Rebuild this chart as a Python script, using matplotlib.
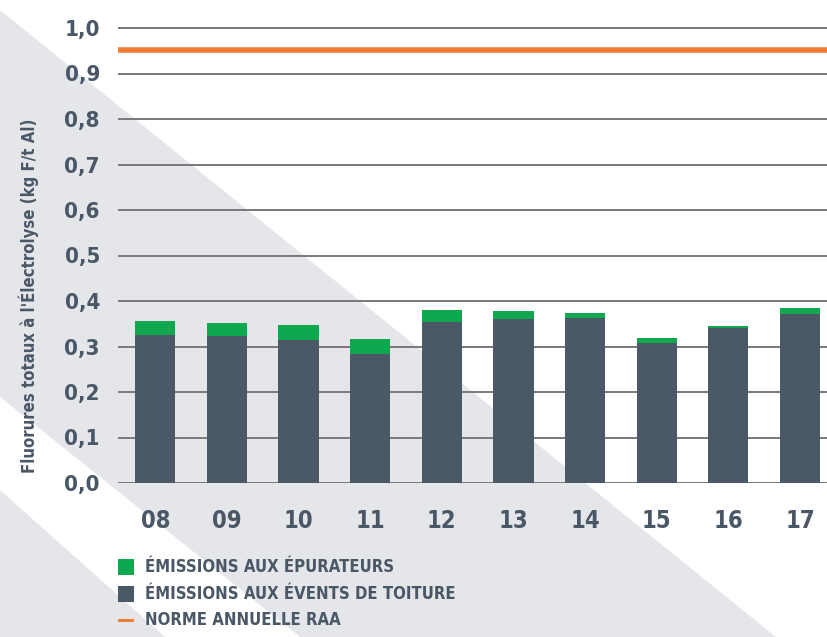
import matplotlib
matplotlib.use("Agg")
import matplotlib.pyplot as plt
from matplotlib.patches import Polygon
from matplotlib import font_manager
import numpy as np

# ---- data ----
years = ["08", "09", "10", "11", "12", "13", "14", "15", "16", "17"]
toiture = [0.325, 0.324, 0.314, 0.284, 0.353, 0.360, 0.362, 0.308, 0.340, 0.371]
epurateurs = [0.032, 0.027, 0.033, 0.032, 0.027, 0.018, 0.011, 0.011, 0.006, 0.014]
norme = 0.952
yticks = [0.0, 0.1, 0.2, 0.3, 0.4, 0.5, 0.6, 0.7, 0.8, 0.9, 1.0]
ytick_labels = ["0,0", "0,1", "0,2", "0,3", "0,4", "0,5", "0,6", "0,7", "0,8", "0,9", "1,0"]
legend_labels = ["ÉMISSIONS AUX ÉPURATEURS", "ÉMISSIONS AUX ÉVENTS DE TOITURE", "NORME ANNUELLE RAA"]
ylabel = "Fluorures totaux à l'Électrolyse (kg F/t Al)"

# ---- style ----
W, H = 828, 637
DARK = "#4b5866"
GREEN = "#0fa84f"
ORANGE = "#f07d32"
TEXT = "#4a5766"
GRID = "#77797c"
BG_GRAY = "#e4e6e9"

names = {f.name for f in font_manager.fontManager.ttflist}
COND = [n for n in ["Liberation Sans Narrow", "DejaVu Sans Condensed"] if n in names] + ["DejaVu Sans"]

fig = plt.figure(figsize=(W / 100, H / 100), dpi=100)
fig.patch.set_facecolor("white")

def fp(pts):
    return [(x / W, 1 - y / H) for x, y in pts]

# background shapes
fig.patches.append(Polygon(fp([(0, 10), (776, 637), (0, 637)]), closed=True,
                           transform=fig.transFigure, facecolor=BG_GRAY, edgecolor="none", zorder=-10))
fig.patches.append(Polygon(fp([(0, 397), (300, 637), (165, 637), (0, 490)]), closed=True,
                           transform=fig.transFigure, facecolor="white", edgecolor="none", zorder=-9))

# axes: x from 118 to 828 px, y=0 at 483 px, 455 px per unit
ymax = 1.02
top_px = 483 - ymax * 455
ax = fig.add_axes([118 / W, (H - 483) / H, (W - 118) / W, (483 - top_px) / H])
ax.set_facecolor("none")
x = np.arange(len(years))
ax.set_xlim(-0.52, 9.39)
ax.set_ylim(0, ymax)

for yv in yticks:
    ax.axhline(yv, color=GRID, lw=1.4, zorder=1)

bw = 0.56
ax.bar(x, toiture, width=bw, color=DARK, zorder=2)
ax.bar(x, epurateurs, width=bw, bottom=toiture, color=GREEN, zorder=2)
ax.axhline(norme, color=ORANGE, lw=4, zorder=3)

for s in ax.spines.values():
    s.set_visible(False)
ax.set_xticks(x)
ax.set_xticklabels(years, fontfamily=COND, fontstretch="condensed", fontweight="bold", fontsize=17, color=TEXT)
ax.set_yticks(yticks)
ax.set_yticklabels(ytick_labels, fontfamily=COND, fontstretch="condensed", fontweight="bold", fontsize=16, color=TEXT)
ax.tick_params(axis="both", length=0)
ax.tick_params(axis="x", pad=19)
ax.tick_params(axis="y", pad=13)

fig.text(29 / W, 1 - 296 / H, ylabel, rotation=90, ha="center", va="center",
         fontsize=12, fontweight="bold", color=TEXT, fontfamily=COND, fontstretch="condensed")

# legend
rows = [567, 594, 620]
for i, (lab, col) in enumerate(zip(legend_labels, [GREEN, DARK, ORANGE])):
    yc = rows[i]
    hh = 8 if i < 2 else 1.5
    fig.patches.append(Polygon(fp([(118, yc - hh), (134, yc - hh), (134, yc + hh), (118, yc + hh)]),
                               closed=True, transform=fig.transFigure, facecolor=col,
                               edgecolor="none", zorder=2))
    fig.text(145 / W, 1 - yc / H, lab, ha="left", va="center", fontsize=12,
             fontweight="bold", color=TEXT, fontfamily=COND, fontstretch="condensed")

fig.savefig("out.png", dpi=100)
